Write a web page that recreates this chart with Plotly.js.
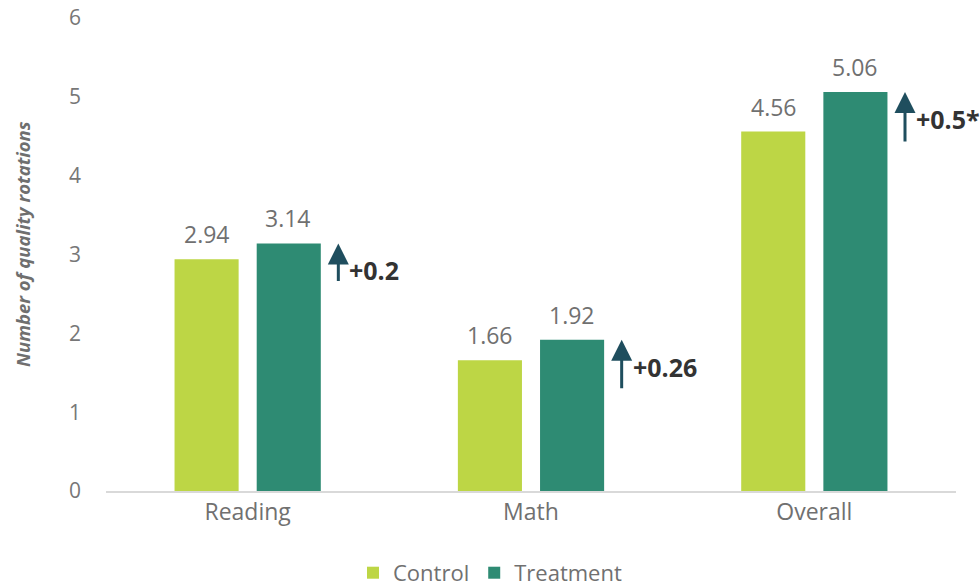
<!DOCTYPE html>
<html><head><meta charset="utf-8">
<script src="https://cdn.plot.ly/plotly-3.0.1.min.js"></script>
<style>body{margin:0}#c{width:980px;height:587px}</style>
</head><body><div id="c"></div>
<script>
const categories = ["Reading", "Math", "Overall"];
const control = [2.94, 1.66, 4.56];
const treatment = [3.14, 1.92, 5.06];
const diffLabels = ["+0.2", "+0.26", "+0.5*"];
const yTicks = [0, 1, 2, 3, 4, 5, 6];
const yTitle = "Number of quality rotations";

const font = "'Open Sans', sans-serif";
const traces = [
  {type:"bar", name:"Control", x:categories, y:control, marker:{color:"#BDD645"}, hoverinfo:"none"},
  {type:"bar", name:"Treatment", x:categories, y:treatment, marker:{color:"#2E8B73"}, hoverinfo:"none"}
];
const tails = [39, 50, 51];
const annotations = [];
const grpOff = 0.143;
categories.forEach((c,i)=>{
  annotations.push({x:i-grpOff, y:control[i], xref:"x", yref:"y", text:control[i].toFixed(2), showarrow:false,
    yanchor:"bottom", yshift:7, font:{size:23,color:"#707070",family:font}});
  annotations.push({x:i+grpOff, y:treatment[i], xref:"x", yref:"y", text:treatment[i].toFixed(2), showarrow:false,
    yanchor:"bottom", yshift:7, font:{size:23,color:"#707070",family:font}});
  annotations.push({x:i+0.32, y:treatment[i], xref:"x", yref:"y", text:"", showarrow:true,
    arrowhead:2, arrowsize:1.4, arrowwidth:3, arrowcolor:"#1F4E5E", ax:0, ay:tails[i], standoff:0});
  annotations.push({x:i+0.32, y:treatment[i], xref:"x", yref:"y", text:"<b>"+diffLabels[i]+"</b>",
    showarrow:false, xanchor:"left", yanchor:"middle", xshift:9, yshift:-27,
    font:{size:25,color:"#333333",family:font}});
});
annotations.push({xref:"paper", yref:"paper", x:-0.099, y:0.522, xanchor:"center", yanchor:"middle",
  textangle:-90, showarrow:false, text:"<b><i>"+yTitle+"</i></b>", font:{size:18.5,color:"#6f6f6f",family:font}});
Plotly.newPlot("c", traces, {
  width:980, height:587,
  margin:{l:106, r:24, t:18, b:96},
  paper_bgcolor:"#fff", plot_bgcolor:"#fff",
  barmode:"group", bargap:0.42, bargroupgap:0.22,
  font:{family:font, color:"#777"},
  xaxis:{automargin:false, range:[-0.5, 2.5], autorange:false, showline:true, linecolor:"#d9d9d9", linewidth:1.5, ticks:"", tickfont:{size:23,color:"#707070"}},
  yaxis:{automargin:false, range:[0,6], autorange:false, tickvals:yTicks, showgrid:false, zeroline:false, showline:false,
    tickfont:{size:21,color:"#777"}, ticklabelstandoff:24},
  legend:{orientation:"h", xref:"container", x:0.5, xanchor:"center", yref:"container", y:0.024, yanchor:"middle",
    font:{size:22,color:"#707070"}, traceorder:"normal"},
  annotations:annotations,
  showlegend:true
}, {displayModeBar:false, staticPlot:true});
</script></body></html>
